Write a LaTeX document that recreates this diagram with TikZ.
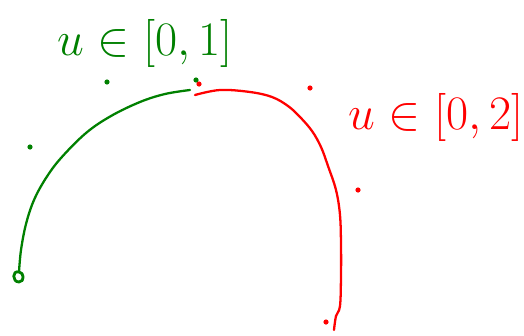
\documentclass[tikz,border=0pt]{standalone}
\usepackage{tikz}

\definecolor{penGreen}{RGB}{0,128,0}
\definecolor{penRed}{RGB}{255,0,0}

\begin{document}
\begin{tikzpicture}[x=0.02cm, y=-0.02cm,
    pen/.style={line width=1.3pt, line cap=round, line join=round},
    lbl/.style={font=\fontsize{24}{28}\selectfont, inner sep=0pt, transform shape, scale=1.1}]
    \useasboundingbox (0,0) rectangle (524,335);

    % 緑の弧（u の範囲 [0,1]）
    \draw[pen, penGreen] plot[smooth, tension=0.6] coordinates {
        (19,272) (21,250) (26,224) (34,200) (46,178) (61,158)
        (86,133) (111,116) (140,102) (165,94) (190,90)};
    \draw[pen, penGreen, line width=1.6pt] (19,272) .. controls (12,270) and (12,282) .. (19,282)
        .. controls (25,282) and (24,272) .. (19,272);
    % 赤の弧（u の範囲 [0,2]）
    \draw[pen, penRed] plot[smooth, tension=0.6] coordinates {
        (195,95) (220,90) (250,92) (272,97) (288,106) (300,117) (312,131)
        (321,147) (328,166) (336,190) (340,215) (341,245) (341,275)
        (340,306) (336,316) (334,330)};

    % 点
    \foreach \p in {(107,82), (30,147), (196,80)} {
        \fill[penGreen] \p circle (2.6);
    }
    \foreach \p in {(310,88), (358,190), (326,322), (199,84)} {
        \fill[penRed] \p circle (2.6);
    }

    % ラベル
    \node[lbl, penGreen] (rangeA) at (145,43) {$u\in[0,1]$};
    \node[lbl, penRed] (rangeB) at (436,117) {$u\in[0,2]$};
\end{tikzpicture}
\end{document}
